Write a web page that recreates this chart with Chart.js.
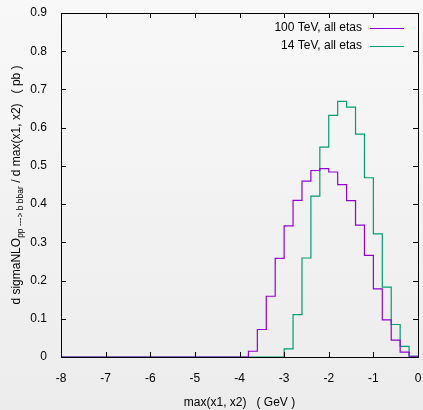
<!DOCTYPE html>
<html lang="en">
<head>
    <meta charset="UTF-8">
    <title>max(x1, x2) distribution</title>
    <script src="https://cdn.jsdelivr.net/npm/chart.js"></script>
    <style>
        html, body { margin: 0; padding: 0; }
        body { width: 423px; height: 410px; background: linear-gradient(#f8f8f8, #ececec); }
        #wrap { width: 423px; height: 410px; position: relative; }
    </style>
</head>
<body>
    <div id="wrap"><canvas id="histChart"></canvas></div>

    <script>
        // bins of width 0.2 from -8 to 0 (40 bins)
        const binStart = -8;
        const binWidth = 0.2;
        const xTicks = [-8, -7, -6, -5, -4, -3, -2, -1, 0];
        const yTicks = [0, 0.1, 0.2, 0.3, 0.4, 0.5, 0.6, 0.7, 0.8, 0.9];
        const seriesNames = ['100 TeV, all etas', '14 TeV, all etas'];

        const values100 = [
            0, 0, 0, 0, 0, 0, 0, 0, 0, 0,
            0, 0, 0, 0, 0, 0, 0, 0, 0, 0,
            0, 0.015, 0.072, 0.159, 0.258, 0.343, 0.410, 0.460, 0.488, 0.493,
            0.484, 0.451, 0.409, 0.345, 0.266, 0.178, 0.097, 0.044, 0.013, 0.002
        ];
        const values14 = [
            0, 0, 0, 0, 0, 0, 0, 0, 0, 0,
            0, 0, 0, 0, 0, 0, 0, 0, 0, 0,
            0, 0, 0, 0, 0, 0.021, 0.111, 0.259, 0.421, 0.549,
            0.632, 0.669, 0.654, 0.583, 0.469, 0.322, 0.183, 0.085, 0.028, 0.002
        ];

        // step points at each bin's right edge (stepped: 'after')
        function toSteps(vals) {
            const pts = [{ x: binStart, y: vals[0] }];
            vals.forEach(function (v, i) {
                pts.push({ x: binStart + (i + 1) * binWidth, y: v });
            });
            return pts;
        }

        const FONT = '"Liberation Sans", Arial, sans-serif';

        // frame, inward ticks, legend and axis titles (gnuplot look)
        const gnuplotDecor = {
            id: 'gnuplotDecor',
            afterDraw(chart) {
                const ctx = chart.ctx;
                const a = chart.chartArea;
                const xs = chart.scales.x, ys = chart.scales.y;
                ctx.save();
                ctx.strokeStyle = '#000';
                ctx.lineWidth = 1;
                ctx.beginPath();
                xTicks.forEach(function (t) {
                    const px = Math.round(xs.getPixelForValue(t)) + 0.5;
                    ctx.moveTo(px, a.bottom); ctx.lineTo(px, a.bottom - 5);
                    ctx.moveTo(px, a.top); ctx.lineTo(px, a.top + 5);
                });
                yTicks.forEach(function (t) {
                    const py = Math.round(ys.getPixelForValue(t)) + 0.5;
                    ctx.moveTo(a.left, py); ctx.lineTo(a.left + 5, py);
                    ctx.moveTo(a.right, py); ctx.lineTo(a.right - 5, py);
                });
                ctx.stroke();
                ctx.strokeRect(Math.round(a.left) + 0.5, Math.round(a.top) + 0.5,
                    Math.round(a.right - a.left), Math.round(a.bottom - a.top));

                // legend
                ctx.font = '12px ' + FONT;
                ctx.fillStyle = '#000';
                ctx.textAlign = 'right';
                ctx.textBaseline = 'middle';
                chart.data.datasets.forEach(function (ds, i) {
                    const y = 28 + i * 18;
                    ctx.fillText(ds.label, 362, y);
                    ctx.strokeStyle = ds.borderColor;
                    ctx.lineWidth = 1.2;
                    ctx.beginPath();
                    ctx.moveTo(370, y + 0.5); ctx.lineTo(404, y + 0.5);
                    ctx.stroke();
                });

                // x title
                ctx.fillStyle = '#000';
                ctx.textAlign = 'center';
                ctx.fillText('max(x1, x2)   ( GeV )', (a.left + a.right) / 2, 403);

                // y title with subscript
                ctx.translate(17, (a.top + a.bottom) / 2);
                ctx.rotate(-Math.PI / 2);
                const p1 = 'd sigmaNLO';
                const sub = 'pp ---> b bbar';
                const p2 = ' / d max(x1, x2)   ( pb )';
                ctx.font = '12px ' + FONT;
                const w1 = ctx.measureText(p1).width;
                const w2 = ctx.measureText(p2).width;
                ctx.font = '8.5px ' + FONT;
                const ws = ctx.measureText(sub).width;
                let x0 = -(w1 + ws + w2) / 2;
                ctx.textAlign = 'left';
                ctx.font = '12px ' + FONT;
                ctx.fillText(p1, x0, 0);
                ctx.font = '8.5px ' + FONT;
                ctx.fillText(sub, x0 + w1, 4);
                ctx.font = '12px ' + FONT;
                ctx.fillText(p2, x0 + w1 + ws, 0);
                ctx.restore();
            }
        };

        const ctx = document.getElementById('histChart').getContext('2d');
        const chart = new Chart(ctx, {
            type: 'line',
            data: {
                datasets: [{
                    label: seriesNames[0],
                    data: toSteps(values100),
                    borderColor: '#9400d3',
                    borderWidth: 1.2,
                    stepped: 'after',
                    pointRadius: 0,
                    fill: false,
                    clip: false
                }, {
                    label: seriesNames[1],
                    data: toSteps(values14),
                    borderColor: '#009e73',
                    borderWidth: 1.2,
                    stepped: 'after',
                    pointRadius: 0,
                    fill: false,
                    clip: false
                }]
            },
            options: {
                responsive: true,
                maintainAspectRatio: false,
                animation: false,
                layout: { padding: { top: 13, right: 5, left: 0, bottom: 0 } },
                plugins: {
                    legend: { display: false },
                    tooltip: { enabled: false }
                },
                scales: {
                    x: {
                        type: 'linear',
                        min: -8,
                        max: 0,
                        afterFit: function (scale) {
                            scale.height = 53;
                            scale.paddingLeft = 0;
                            scale.paddingRight = 0;
                        },
                        afterBuildTicks: function (scale) {
                            scale.ticks = xTicks.map(function (v) { return { value: v }; });
                        },
                        grid: { display: false, drawTicks: false },
                        border: { display: false },
                        ticks: {
                            padding: 14,
                            color: '#000',
                            font: { family: FONT, size: 12 },
                            maxRotation: 0
                        }
                    },
                    y: {
                        min: 0,
                        max: 0.9,
                        afterFit: function (scale) {
                            scale.width = 61;
                            scale.paddingTop = 0;
                            scale.paddingBottom = 0;
                        },
                        afterBuildTicks: function (scale) {
                            scale.ticks = yTicks.map(function (v) { return { value: v }; });
                        },
                        grid: { display: false, drawTicks: false },
                        border: { display: false },
                        ticks: {
                            padding: 14,
                            color: '#000',
                            font: { family: FONT, size: 12 },
                            callback: function (v) { return String(Math.round(v * 10) / 10); }
                        }
                    }
                }
            },
            plugins: [gnuplotDecor]
        });
    </script>
</body>
</html>
